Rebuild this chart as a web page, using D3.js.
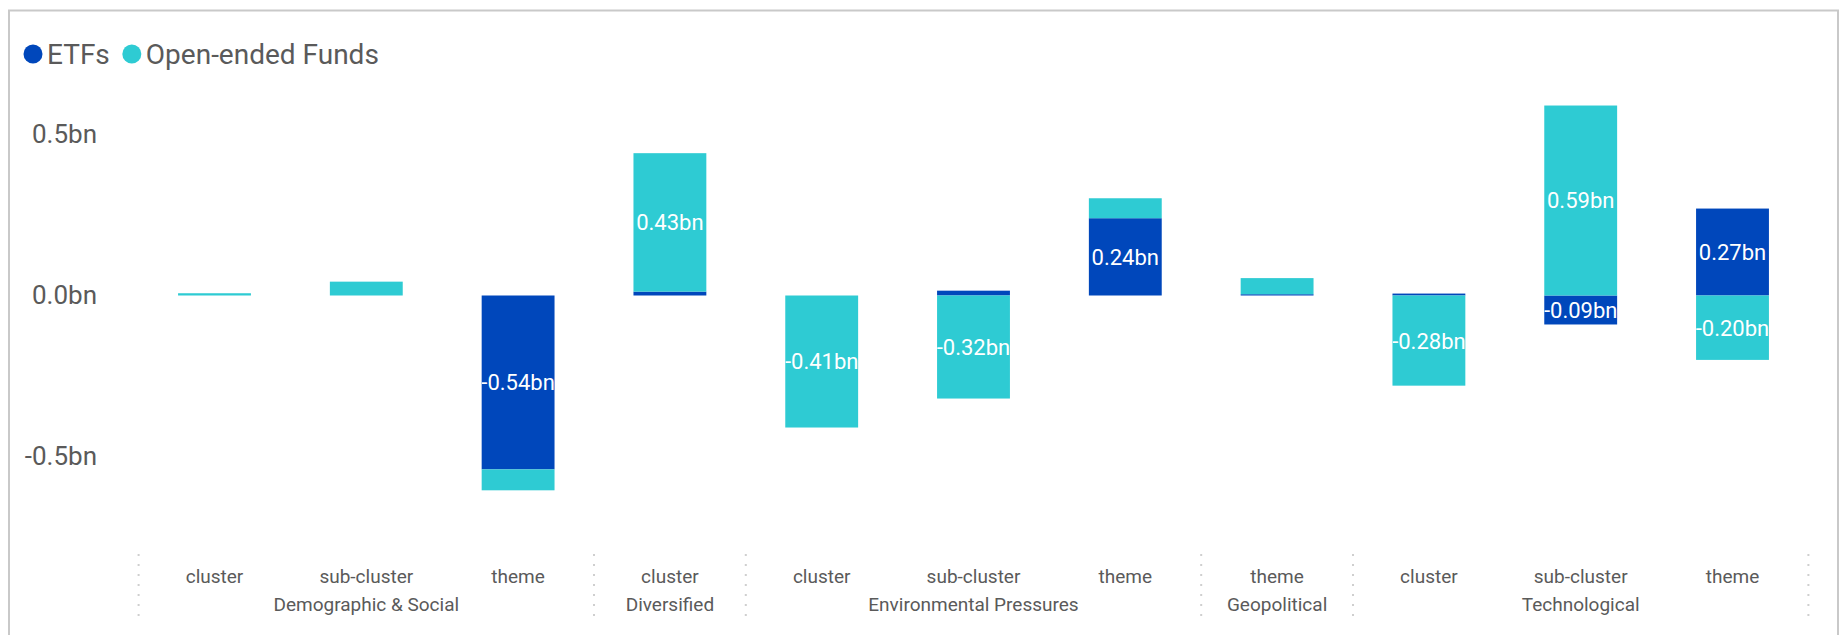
<!DOCTYPE html>
<html>
<head>
<meta charset="utf-8">
<script src="https://cdn.jsdelivr.net/npm/d3@7"></script>
<style>
  html, body { margin: 0; padding: 0; background: #fff; }
  svg { display: block; font-family: Roboto, "Noto Sans", sans-serif; }
</style>
</head>
<body>
<svg id="chart" width="1848" height="635"></svg>
<script>
// Net flows (bn) by theme level, split by vehicle type
const subLabels = ["cluster", "sub-cluster", "theme", "cluster", "cluster", "sub-cluster", "theme", "theme", "cluster", "sub-cluster", "theme"];
const groupLabels = ["Demographic & Social", "Demographic & Social", "Demographic & Social", "Diversified",
  "Environmental Pressures", "Environmental Pressures", "Environmental Pressures", "Geopolitical",
  "Technological", "Technological", "Technological"];
const etfValues = [0, 0, -0.54, 0.012, 0, 0.015, 0.24, 0.004, 0.006, -0.09, 0.27];
const openEndedValues = [0.007, 0.043, -0.065, 0.43, -0.41, -0.32, 0.062, 0.05, -0.28, 0.59, -0.20];
const seriesNames = ["ETFs", "Open-ended Funds"];
const seriesColors = ["#0047bb", "#2ecbd3"];
const yTickValues = [-0.5, 0, 0.5];

const svg = d3.select("#chart");

// frame
svg.append("rect")
  .attr("x", 9).attr("y", 10.5).attr("width", 1829).attr("height", 700)
  .attr("fill", "none").attr("stroke", "#c9c9c9").attr("stroke-width", 2);

const rows = subLabels.map((s, i) => ({ idx: i, sub: s, group: groupLabels[i], ETFs: etfValues[i], "Open-ended Funds": openEndedValues[i] }));

const x = d3.scaleBand()
  .domain(d3.range(rows.length))
  .range([138.6, 1808.4])
  .paddingInner(0.52)
  .paddingOuter(0.26);

const y = d3.scaleLinear()
  .domain([-0.8, 0.7])
  .range([553.1, 70.1]);

const stacked = d3.stack()
  .keys(seriesNames)
  .offset(d3.stackOffsetDiverging)(rows);

// clip paths so value labels stay inside their bar column
const defs = svg.append("defs");
rows.forEach(r => {
  defs.append("clipPath").attr("id", "col" + r.idx)
    .append("rect")
    .attr("x", x(r.idx)).attr("y", 0)
    .attr("width", x.bandwidth()).attr("height", 635);
});

const fmt = v => (v < 0 ? "-" : "") + Math.abs(v).toFixed(2) + "bn";

stacked.forEach((layer, si) => {
  const g = svg.append("g");
  g.selectAll("rect")
    .data(layer)
    .join("rect")
    .attr("x", d => x(d.data.idx))
    .attr("width", x.bandwidth())
    .attr("y", d => y(Math.max(d[0], d[1])))
    .attr("height", d => Math.abs(y(d[0]) - y(d[1])))
    .attr("fill", seriesColors[si]);
});

stacked.forEach((layer, si) => {
  const key = seriesNames[si];
  svg.append("g")
    .selectAll("text")
    .data(layer.filter(d => Math.abs(d.data[key]) >= 0.08))
    .join("text")
    .attr("clip-path", d => "url(#col" + d.data.idx + ")")
    .attr("x", d => x(d.data.idx) + x.bandwidth() / 2)
    .attr("y", d => y((d[0] + d[1]) / 2))
    .attr("dy", "0.36em")
    .attr("text-anchor", "middle")
    .attr("font-size", 22)
    .attr("fill", "#ffffff")
    .text(d => fmt(d.data[key]));
});

// y axis labels
const yAxis = svg.append("g")
  .attr("transform", "translate(97,0)")
  .call(d3.axisLeft(y).tickValues(yTickValues).tickSize(0).tickPadding(0)
    .tickFormat(v => d3.format(".1f")(v).replace("−", "-") + "bn"));
yAxis.select(".domain").remove();
yAxis.selectAll("text")
  .attr("font-size", 26)
  .attr("font-family", "Roboto, sans-serif")
  .attr("fill", "#5a5a5a");

// category labels
const step = x.step();
const half = step * x.paddingInner() / 2;
const xg = svg.append("g");
xg.selectAll("text.sub")
  .data(rows)
  .join("text")
  .attr("class", "sub")
  .attr("x", d => x(d.idx) + x.bandwidth() / 2)
  .attr("y", 583)
  .attr("text-anchor", "middle")
  .attr("font-size", 19)
  .attr("fill", "#5a5a5a")
  .text(d => d.sub);

const groupSpans = d3.groups(rows, d => d.group).map(([name, items]) => ({
  name,
  x0: x(items[0].idx) - half,
  x1: x(items[items.length - 1].idx) + x.bandwidth() + half
}));

xg.selectAll("text.grp")
  .data(groupSpans)
  .join("text")
  .attr("class", "grp")
  .attr("x", d => (d.x0 + d.x1) / 2)
  .attr("y", 611)
  .attr("text-anchor", "middle")
  .attr("font-size", 19)
  .attr("fill", "#5a5a5a")
  .text(d => d.name);

const sepX = [groupSpans[0].x0, ...groupSpans.map(d => d.x1)];
xg.selectAll("line.sep")
  .data(sepX)
  .join("line")
  .attr("class", "sep")
  .attr("x1", d => d).attr("x2", d => d)
  .attr("y1", 554).attr("y2", 620)
  .attr("stroke", "#cfcfcf")
  .attr("stroke-width", 2)
  .attr("stroke-dasharray", "2,8");

// legend
const legend = svg.append("g").attr("transform", "translate(0,54)");
let lx = 33;
seriesNames.forEach((name, i) => {
  legend.append("circle").attr("cx", lx).attr("cy", 0).attr("r", 9.5).attr("fill", seriesColors[i]);
  const t = legend.append("text")
    .attr("x", lx + 14).attr("y", 0).attr("dy", "0.36em")
    .attr("font-size", 28).attr("fill", "#5a5a5a")
    .text(name);
  lx += 14 + t.node().getComputedTextLength() + 22;
});
</script>
</body>
</html>
